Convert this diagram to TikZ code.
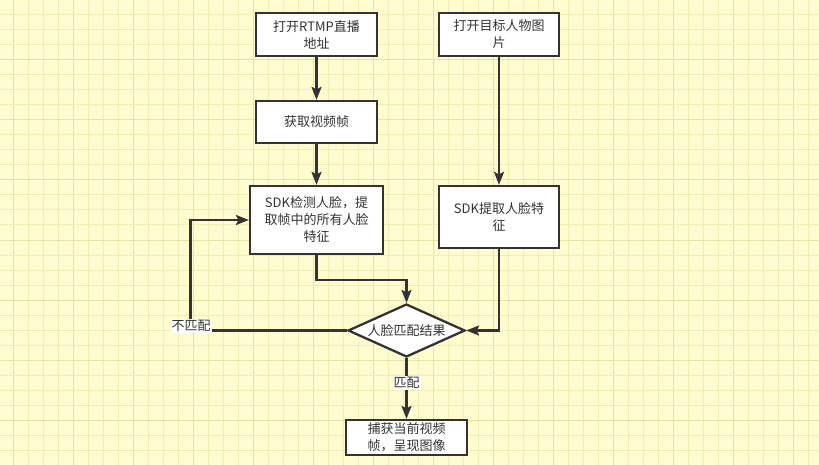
\documentclass[tikz,border=0pt]{standalone}
\usepackage{fontspec}
\newfontfamily\cjk{Noto Sans CJK SC}
\usetikzlibrary{arrows.meta,shapes.geometric}
\definecolor{bgyel}{RGB}{255,253,208}
\definecolor{gridminor}{RGB}{241,237,185}
\definecolor{gridmajor}{RGB}{230,226,170}
\definecolor{ink}{RGB}{51,51,51}
\tikzset{
  box/.style={draw=ink, line width=2.3pt, fill=white, font=\cjk\fontsize{13}{17}\selectfont,
    text=ink, align=center, inner sep=0pt},
  dia/.style={diamond, draw=ink, line width=2.3pt, fill=white, font=\cjk\fontsize{13}{17}\selectfont,
    text=ink, inner sep=0pt, shape aspect=2.2, minimum width=117pt, minimum height=53pt},
  conn/.style={draw=ink, line width=2.2pt, -{Stealth[length=13pt,width=10pt,inset=2.5pt]}},
  lbl/.style={fill=white, font=\cjk\fontsize{13}{15}\selectfont, text=ink, inner sep=1pt}
}
\begin{document}
\begin{tikzpicture}[x=1pt,y=-1pt]
\useasboundingbox (0,0) rectangle (819,465);
\fill[bgyel] (0,0) rectangle (819,465);
\foreach \i in {0,...,54} {
  \pgfmathsetmacro{\xx}{13+15*\i-15}
  \pgfmathtruncatemacro{\m}{mod(\i+3,4)}
  \ifnum\m=0
    \draw[gridmajor, line width=1pt] (\xx,0) -- (\xx,465);
  \else
    \draw[gridminor, line width=1pt] (\xx,0) -- (\xx,465);
  \fi
}
\foreach \j in {1,...,31} {
  \pgfmathsetmacro{\yy}{15*\j}
  \pgfmathtruncatemacro{\m}{mod(\j,4)}
  \ifnum\m=0
    \draw[gridmajor, line width=1pt] (0,\yy) -- (819,\yy);
  \else
    \draw[gridminor, line width=1pt] (0,\yy) -- (819,\yy);
  \fi
}

\node[box, minimum width=121pt, minimum height=43pt] (b1) at (316.5,34.5) {打开RTMP直播\\地址};
\node[box, minimum width=121pt, minimum height=42pt] (b2) at (316.5,122) {获取视频帧};
\node[box, minimum width=133pt, minimum height=68pt] (b3) at (316.5,220) {SDK检测人脸，提\\取帧中的所有人脸\\特征};
\node[box, minimum width=120pt, minimum height=43pt] (r1) at (499,34.5) {打开目标人物图\\片};
\node[box, minimum width=120pt, minimum height=62pt] (r2) at (499,217) {SDK提取人脸特\\征};
\node[dia] (d) at (406.5,330.5) {人脸匹配结果};
\node[box, minimum width=121pt, minimum height=35pt] (f) at (406.5,437.5) {捕获当前视频\\帧，呈现图像};

\coordinate (k1) at (316.5,280);
\coordinate (k2) at (190.5,330.5);

\draw[conn] (b1) -- (b2);
\draw[conn] (b2) -- (b3);
\draw[conn] (r1) -- (r2);
\draw[conn] (b3.south) -- (k1) -| (d.north);
\draw[conn] (r2.south) |- (d.east);
\draw[conn] (d.west) -- (k2) |- (b3.west);
\draw[conn] (d.south) -- (f.north);

\node[lbl] (nm) at (191,326) {不匹配};
\node[lbl] (m) at (406.5,383) {匹配};
\end{tikzpicture}
\end{document}
